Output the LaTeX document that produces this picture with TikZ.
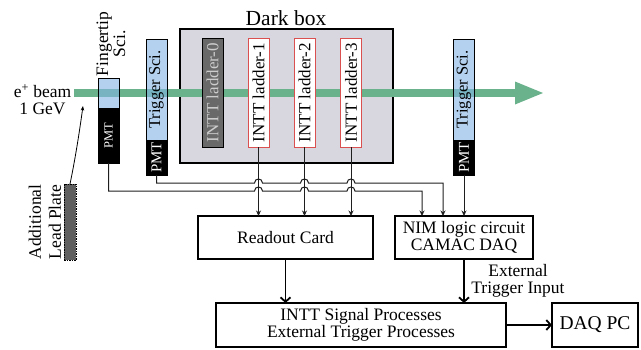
\documentclass[tikz,border=0pt]{standalone}
\usepackage{fontspec}
\usepackage{graphicx}
\setmainfont{Liberation Serif}
\usetikzlibrary{arrows.meta,calc}
\definecolor{beamgreen}{RGB}{106,178,140}
\definecolor{scibl}{RGB}{130,180,230}
\definecolor{darkbg}{RGB}{216,214,222}
\definecolor{ladgray}{RGB}{105,105,105}
\definecolor{ladtxt}{RGB}{205,205,205}
\definecolor{ladred}{RGB}{218,80,80}
\definecolor{leadgray}{RGB}{95,95,95}
\definecolor{wirec}{RGB}{30,30,30}
\begin{document}
\begin{tikzpicture}[x=1pt,y=-1pt,
  every node/.style={font=\fontsize{17.5}{17}\selectfont, inner sep=0pt, outer sep=0pt},
  box/.style={draw=black, line width=1.2pt, fill=white, align=center},
  scibox/.style={draw=black, line width=0.9pt, fill=scibl, fill opacity=0.6, text opacity=1, minimum width=21pt, font=\fontsize{16.5}{17}\selectfont},
  pmtbox/.style={draw=black, fill=black, text=white, minimum width=21pt},
  ladder/.style={draw=ladred, line width=1pt, fill=white, minimum width=21pt, minimum height=109pt, font=\fontsize{17}{17}\selectfont},
  wire/.style={draw=wirec, line width=1pt},
  wtip/.style={-{Stealth[length=5.5pt,width=5pt]}},
  bigarrow/.style={line width=1.8pt, -{Straight Barb[length=4.5pt,width=10pt]}},
]
\useasboundingbox (0,0) rectangle (641,349);

% dark box
\node[draw=black, line width=1.3pt, fill=darkbg, minimum width=213pt, minimum height=134pt] (dark) at (286.5,96) {};
\node[anchor=base, font=\fontsize{21.5}{22}\selectfont] (darklbl) at (286,25) {Dark box};

% beam
\fill[beamgreen] (74,89) rectangle (515,97);
\fill[beamgreen] (515,81.5) -- (543,93) -- (515,104.5) -- cycle;
\node[align=center] (beamlbl) at (42.5,100) {e\textsuperscript{+} beam\\1 GeV};

% scintillators and PMTs
\node[scibox, minimum height=30pt] (fsci) at (108.5,93) {};
\node[pmtbox, minimum height=54pt, font=\fontsize{12.5}{13}\selectfont] (fpmt) at (108.5,136) {\rotatebox{90}{PMT}};
\node[rotate=90, anchor=west, align=center] (flbl) at (111,76) {Fingertip\\Sci.};

\node[scibox, minimum height=101pt] (tsci1) at (156.5,89.5) {\rotatebox{90}{Trigger Sci.}};
\node[pmtbox, minimum height=35pt, font=\fontsize{15}{15}\selectfont] (tpmt1) at (156.5,157.5) {\rotatebox{90}{PMT}};

\node[scibox, minimum height=101pt] (tsci2) at (464,89.5) {\rotatebox{90}{Trigger Sci.}};
\node[pmtbox, minimum height=35pt, font=\fontsize{15}{15}\selectfont] (tpmt2) at (464,157.5) {\rotatebox{90}{PMT}};

% ladders
\node[ladder, draw=black, fill=ladgray, text=ladtxt] (lad0) at (212.5,92.5) {\rotatebox{90}{INTT ladder-0}};
\node[ladder] (lad1) at (258.5,92.5) {\rotatebox{90}{INTT ladder-1}};
\node[ladder] (lad2) at (304.5,92.5) {\rotatebox{90}{INTT ladder-2}};
\node[ladder] (lad3) at (351,92.5) {\rotatebox{90}{INTT ladder-3}};

% lead plate
\node[draw=black, densely dashed, dash pattern=on 1.5pt off 1pt, line width=0.9pt, fill=leadgray, minimum width=12pt, minimum height=76pt] (lead) at (70,222) {};
\node[rotate=90, align=center, font=\fontsize{17.5}{20}\selectfont] (leadlbl) at (45,222) {Additional\\Lead Plate};
\coordinate (bhit) at (83,106);
\draw[line width=0.8pt, -{Stealth[length=4.5pt,width=3.5pt]}] (lead.north) .. controls (75,160) and (79,135) .. (bhit);

% lower boxes
\node[box, minimum width=175pt, minimum height=43pt] (rc) at (285.5,237.5) {Readout Card};
\node[box, minimum width=138pt, minimum height=43pt] (nim) at (464,237.5) {NIM logic circuit\\CAMAC DAQ};
\node[box, minimum width=290pt, minimum height=44pt] (intt) at (361,325) {INTT Signal Processes\\External Trigger Processes};
\node[box, minimum width=86pt, minimum height=44pt, font=\fontsize{19.5}{20}\selectfont] (daq) at (595,325) {DAQ PC};
\node[align=center] (ext) at (518,281) {External\\Trigger Input};

% wires
\coordinate (wA) at (0,191);
\coordinate (wB) at (0,183);
\draw[wire, wtip] (fpmt.south) -- (fpmt.south |- wA)
  -- ($(lad1.south |- wA)+(-4,0)$) .. controls +(0,-5.3) and +(0,-5.3) .. ($(lad1.south |- wA)+(4,0)$)
  -- ($(lad2.south |- wA)+(-4,0)$) .. controls +(0,-5.3) and +(0,-5.3) .. ($(lad2.south |- wA)+(4,0)$)
  -- ($(lad3.south |- wA)+(-4,0)$) .. controls +(0,-5.3) and +(0,-5.3) .. ($(lad3.south |- wA)+(4,0)$)
  -- ($(nim.north west |- wA)+(27,0)$) -- ($(nim.north west)+(27,0)$);
\draw[wire, wtip] (tpmt1.south) -- (tpmt1.south |- wB)
  -- ($(lad1.south |- wB)+(-4,0)$) .. controls +(0,-5.3) and +(0,-5.3) .. ($(lad1.south |- wB)+(4,0)$)
  -- ($(lad2.south |- wB)+(-4,0)$) .. controls +(0,-5.3) and +(0,-5.3) .. ($(lad2.south |- wB)+(4,0)$)
  -- ($(lad3.south |- wB)+(-4,0)$) .. controls +(0,-5.3) and +(0,-5.3) .. ($(lad3.south |- wB)+(4,0)$)
  -- ($(nim.north west |- wB)+(48,0)$) -- ($(nim.north west)+(48,0)$);
\draw[wire, wtip] (tpmt2.south) -- (tpmt2.south |- nim.north);
\draw[wire, wtip] (lad1.south) -- (lad1.south |- rc.north);
\draw[wire, wtip] (lad2.south) -- (lad2.south |- rc.north);
\draw[wire, wtip] (lad3.south) -- (lad3.south |- rc.north);

% thick arrows
\draw[bigarrow] (rc.south) -- (rc.south |- intt.north);
\draw[bigarrow] (nim.south) -- (nim.south |- intt.north);
\draw[bigarrow] (intt.east) -- (daq.west);
\end{tikzpicture}
\end{document}
